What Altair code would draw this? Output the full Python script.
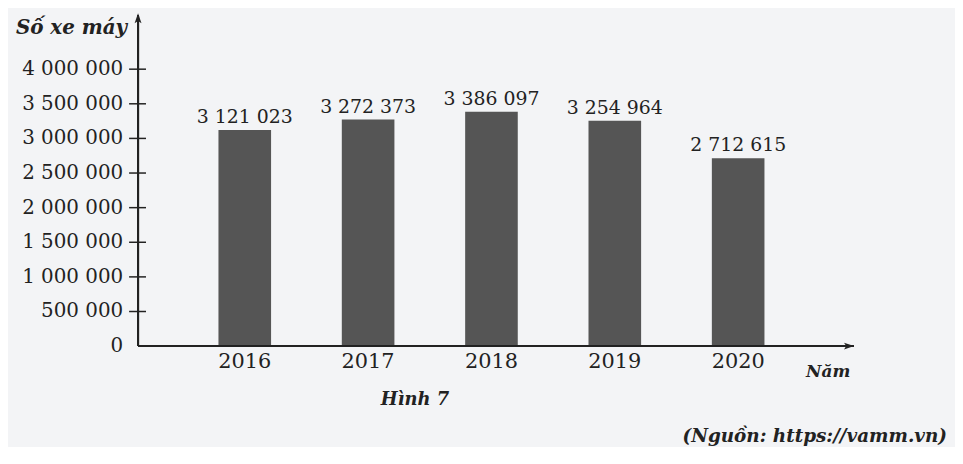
import altair as alt
import pandas as pd

years = [2016, 2017, 2018, 2019, 2020]
values = [3121023, 3272373, 3386097, 3254964, 2712615]
value_labels = ["3 121 023", "3 272 373", "3 386 097", "3 254 964", "2 712 615"]
tick_values = [0, 500000, 1000000, 1500000, 2000000, 2500000, 3000000, 3500000, 4000000]
tick_labels = ["0", "500 000", "1 000 000", "1 500 000", "2 000 000", "2 500 000",
               "3 000 000", "3 500 000", "4 000 000"]

W, H = 723, 332
FONT = "DejaVu Serif"
INK = "#222222"

df = pd.DataFrame({"year": years, "value": values, "label": value_labels})
ticks = pd.DataFrame({"v": tick_values, "t": tick_labels})

xs = alt.Scale(domain=[2015.175, 2020.913], nice=False, zero=False)
ys = alt.Scale(domain=[0, 4760000], nice=False)

bars = alt.Chart(df).mark_bar(color="#555555", size=53).encode(
    x=alt.X("year:Q", scale=xs, axis=None),
    y=alt.Y("value:Q", scale=ys, axis=None),
)

vlabels = alt.Chart(df).mark_text(font=FONT, fontSize=19, color=INK, baseline="alphabetic", dy=-7).encode(
    x=alt.X("year:Q", scale=xs), y=alt.Y("value:Q", scale=ys), text="label:N"
)

ylabels = alt.Chart(ticks).mark_text(font=FONT, fontSize=20, color=INK, align="right", baseline="middle").encode(
    x=alt.value(-15), y=alt.Y("v:Q", scale=ys), text="t:N"
)

yticks = alt.Chart(ticks[ticks.v > 0]).mark_rule(color=INK, strokeWidth=1.5).encode(
    x=alt.value(-9), x2=alt.value(8), y=alt.Y("v:Q", scale=ys)
)

xlabels = alt.Chart(df).mark_text(font=FONT, fontSize=21, color=INK, baseline="top").encode(
    x=alt.X("year:Q", scale=xs), y=alt.value(H + 5), text="year:N"
)

yaxis = alt.Chart(df).mark_rule(color=INK, strokeWidth=2).encode(
    x=alt.value(0), y=alt.value(H), y2=alt.value(-1)
)
xaxis = alt.Chart(df).mark_rule(color=INK, strokeWidth=2).encode(
    x=alt.value(0), x2=alt.value(W - 2), y=alt.value(H)
)

arrow_up = alt.Chart(df.head(1)).mark_point(
    shape="M0,-1 L0.55,0.6 L0,0.25 L-0.55,0.6 Z", filled=True, color=INK, opacity=1, size=160
).encode(x=alt.value(0), y=alt.value(3))
arrow_right = alt.Chart(df.head(1)).mark_point(
    shape="M1,0 L-0.6,0.55 L-0.25,0 L-0.6,-0.55 Z", filled=True, color=INK, opacity=1, size=160
).encode(x=alt.value(W - 8), y=alt.value(H))

def txt(s, x, y, size, align="center", weight="normal", style="italic"):
    return alt.Chart(pd.DataFrame({"t": [s]})).mark_text(
        font=FONT, fontSize=size, fontStyle=style, fontWeight=weight, color=INK,
        align=align, baseline="middle"
    ).encode(x=alt.value(x), y=alt.value(y), text="t:N")

titles = [
    txt("Số xe máy", -11, 12, 20, align="right", weight="bold"),
    txt("Năm", 673, 358, 17, align="left", weight="bold"),
    txt("Hình 7", 279, 386, 18, weight="bold"),
    txt("(Nguồn: https://vamm.vn)", 815, 423, 18.5, align="right", weight="bold"),
]

chart = alt.layer(bars, vlabels, ylabels, yticks, xlabels, yaxis, xaxis, arrow_up, arrow_right, *titles).properties(
    width=W, height=H,
    autosize="none",
    padding={"left": 131, "top": 7, "right": 100, "bottom": 100},
    background="#f3f4f6",
).configure_view(stroke=None)

chart.save("out.html", embed_options={"renderer": "svg", "actions": False})
